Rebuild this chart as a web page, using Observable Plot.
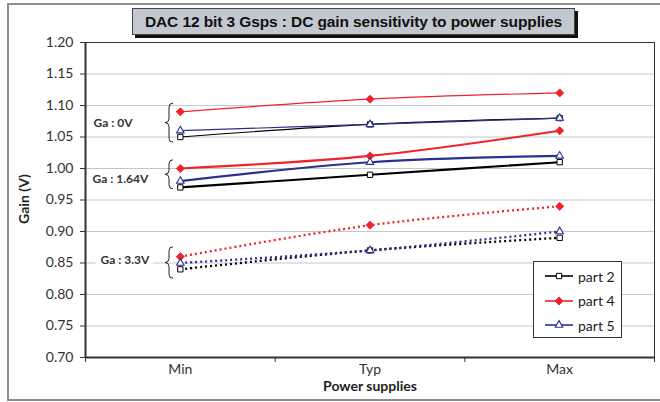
<!DOCTYPE html>
<html>
<head>
<meta charset="utf-8">
<script src="https://cdn.jsdelivr.net/npm/d3@7"></script>
<script src="https://cdn.jsdelivr.net/npm/@observablehq/plot@0.6"></script>
<style>
  html, body { margin: 0; padding: 0; background: #fff; overflow: hidden; }
  #wrap { position: relative; width: 660px; height: 402px; overflow: hidden; font-family: Lato, "Open Sans", sans-serif; }
  #outer { position: absolute; left: 7px; top: 3px; width: 700px; height: 394px; border: 2px solid #8c8c8c; }
  #chart { position: absolute; left: 0; top: 0; }
  #title { position: absolute; left: 132px; top: 8px; width: 441px; height: 25px; background: #c3c7cf; border: 1px solid #444;
           box-shadow: 3px 3px 0 #111; font: bold 15.5px "Liberation Sans", Arial, sans-serif; color: #111;
           line-height: 25px; text-align: center; white-space: nowrap; letter-spacing: -0.1px; }
  #ylabel { position: absolute; left: 24px; top: 199px; transform: translate(-50%, -50%) rotate(-90deg);
            font: bold 14px Lato, sans-serif; color: #222; white-space: nowrap; line-height: 14px; }
  #xlabel { position: absolute; left: 370px; top: 386px; transform: translate(-50%, -50%);
            font: bold 14px Lato, sans-serif; color: #222; white-space: nowrap; line-height: 14px; }
  #legend { position: absolute; left: 533px; top: 261px; width: 87px; height: 75px; border: 1px solid #333; background: #fff; }
  .item { position: absolute; left: 10px; height: 16px; display: flex; align-items: center; font: 14px Lato, sans-serif; color: #222; }
  .item svg { margin-right: 4px; }
</style>
</head>
<body>
<div id="wrap">
  <div id="outer"></div>
  <div id="chart"></div>
  <div id="title">DAC 12 bit 3 Gsps : DC gain sensitivity to power supplies</div>
  <div id="ylabel">Gain (V)</div>
  <div id="xlabel">Power supplies</div>
  <div id="legend"></div>
</div>
<script>
// ---- data ----
const categories = ["Min", "Typ", "Max"];
const parts = ["part 2", "part 4", "part 5"];
const groups = ["Ga : 0V", "Ga : 1.64V", "Ga : 3.3V"];

const ga0_part2 = [1.05, 1.07, 1.08];
const ga0_part4 = [1.09, 1.11, 1.12];
const ga0_part5 = [1.06, 1.07, 1.08];

const ga164_part2 = [0.97, 0.99, 1.01];
const ga164_part4 = [1.00, 1.02, 1.06];
const ga164_part5 = [0.98, 1.01, 1.02];

const ga33_part2 = [0.84, 0.87, 0.89];
const ga33_part4 = [0.86, 0.91, 0.94];
const ga33_part5 = [0.85, 0.87, 0.90];

const yTicks = [0.70, 0.75, 0.80, 0.85, 0.90, 0.95, 1.00, 1.05, 1.10, 1.15, 1.20];

// brace extents (gain units) for each group
const braceTop = [1.103, 1.013, 0.875];
const braceBottom = [1.041, 0.967, 0.825];

// ---- build table ----
const series = [
  [groups[0], parts[0], ga0_part2], [groups[0], parts[1], ga0_part4], [groups[0], parts[2], ga0_part5],
  [groups[1], parts[0], ga164_part2], [groups[1], parts[1], ga164_part4], [groups[1], parts[2], ga164_part5],
  [groups[2], parts[0], ga33_part2], [groups[2], parts[1], ga33_part4], [groups[2], parts[2], ga33_part5]
];
const rows = [];
for (const [g, p, vals] of series) vals.forEach((v, i) => rows.push({group: g, part: p, i, cat: categories[i], v}));

const colors = {"part 2": "#000000", "part 4": "#f0232b", "part 5": "#2c2f8f"};
const lineStyle = {
  "Ga : 0V": {strokeWidth: 1.2},
  "Ga : 1.64V": {strokeWidth: 2.1},
  "Ga : 3.3V": {strokeWidth: 2.3, strokeDasharray: "2,3", strokeLinecap: "butt"}
};
const markerStyle = {
  "part 2": {symbol: "square", r: 3.0, fill: "white", stroke: colors["part 2"], strokeWidth: 1},
  "part 4": {symbol: "diamond2", r: 3.6, fill: colors["part 4"], stroke: colors["part 4"], strokeWidth: 1},
  "part 5": {symbol: "triangle", r: 2.8, fill: "white", stroke: colors["part 5"], strokeWidth: 1.1}
};

// annotation label placement
const labelX = [-0.458, -0.463, -0.421];
const labelY = [1.0714, 0.9825, 0.854];
const labels = groups.map((g, k) => ({g, x: labelX[k], y: labelY[k]}));
const braces = groups.map((g, k) => ({top: braceTop[k], bottom: braceBottom[k]}));
const braceX = -0.036;

function braceMark(index, scales) {
  const svgNS = "http://www.w3.org/2000/svg";
  const gEl = document.createElementNS(svgNS, "g");
  for (const b of braces) {
    const xr = scales.x(braceX), y0 = scales.y(b.top), y1 = scales.y(b.bottom);
    const xm = xr - 4, xt = xr - 8, mid = (y0 + y1) / 2, r = 4;
    const d = `M${xr},${y0} Q${xm},${y0} ${xm},${y0 + r} L${xm},${mid - r} Q${xm},${mid} ${xt},${mid} Q${xm},${mid} ${xm},${mid + r} L${xm},${y1 - r} Q${xm},${y1} ${xr},${y1}`;
    const p = document.createElementNS(svgNS, "path");
    p.setAttribute("d", d);
    p.setAttribute("fill", "none");
    p.setAttribute("stroke", "#222");
    p.setAttribute("stroke-width", "1");
    gEl.appendChild(p);
  }
  return gEl;
}

const marks = [
  Plot.ruleY(yTicks.filter(t => t > 0.7 && t < 1.2), {y: d => d, stroke: "#c4c6ce", strokeWidth: 1}),
  Plot.frame({stroke: "#333", strokeWidth: 1}),
  Plot.axisY({ticks: yTicks, tickSize: 5, tickPadding: 7, tickFormat: d => d.toFixed(2), label: null, fontSize: 14, color: "#333"}),
  Plot.axisX({ticks: [0, 1, 2], tickSize: 0, tickPadding: 7, tickFormat: i => categories[i], label: null, fontSize: 14, color: "#333"}),
  Plot.axisX({ticks: [-0.5, 0.5, 1.5, 2.5], tickSize: 5, tickFormat: () => "", label: null, color: "#333"}),
  Plot.ruleX([-0.5], {x: d => d, stroke: "#333", strokeWidth: 2}),
  Plot.ruleY([0.7], {y: d => d, stroke: "#333", strokeWidth: 2}),
  Plot.text(labels, {x: "x", y: "y", text: "g", textAnchor: "start", fontWeight: "bold", fontSize: 12,
    fill: "#333", stroke: "white", strokeWidth: 12, fontFamily: "Lato"}),
  braceMark
];
for (const g of groups) {
  for (const p of parts) {
    marks.push(Plot.line(rows.filter(d => d.group === g && d.part === p), {
      x: "i", y: "v", stroke: colors[p], curve: "catmull-rom", ...lineStyle[g]
    }));
  }
}
for (const p of parts) {
  marks.push(Plot.dot(rows.filter(d => d.part === p), {x: "i", y: "v", ...markerStyle[p]}));
}

const chart = Plot.plot({
  width: 660,
  height: 402,
  marginLeft: 85,
  marginRight: 6,
  marginTop: 42,
  marginBottom: 45,
  style: {fontFamily: "Lato, sans-serif", background: "transparent"},
  x: {type: "linear", domain: [-0.5, 2.5]},
  y: {domain: [0.7, 1.2]},
  marks
});
document.getElementById("chart").appendChild(chart);

// ---- legend ----
const legend = document.getElementById("legend");
parts.forEach((p, k) => {
  const item = document.createElement("div");
  item.className = "item";
  item.style.top = (6 + k * 24.5) + "px";
  const ms = markerStyle[p];
  const sym = {square: d3.symbolSquare, diamond2: d3.symbolDiamond2, triangle: d3.symbolTriangle}[ms.symbol];
  const path = d3.symbol(sym, Math.PI * ms.r * ms.r)();
  item.innerHTML = `<svg width="30" height="12"><line x1="1" x2="29" y1="6" y2="6" stroke="${colors[p]}" stroke-width="1.6"/>` +
    `<path d="${path}" transform="translate(15,6)" fill="${ms.fill}" stroke="${ms.stroke}" stroke-width="${ms.strokeWidth}"/></svg><span>${p}</span>`;
  legend.appendChild(item);
});
</script>
</body>
</html>
